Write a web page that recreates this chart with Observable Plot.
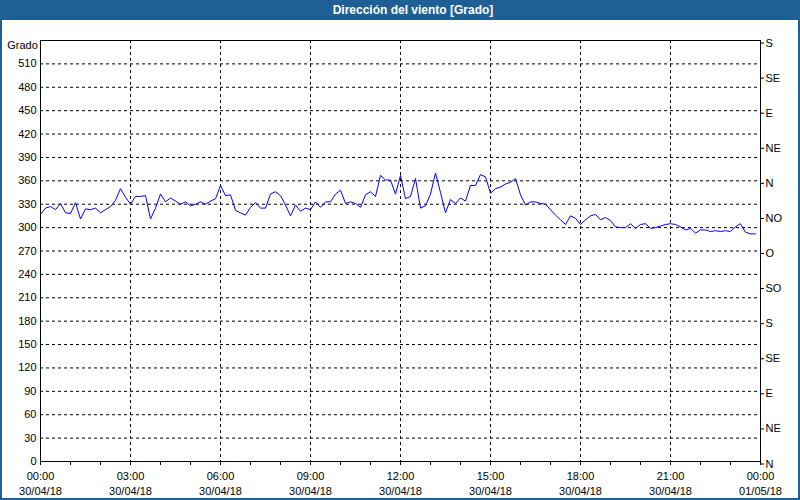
<!DOCTYPE html>
<html><head><meta charset="utf-8">
<script src="https://cdn.jsdelivr.net/npm/d3@7"></script>
<script src="https://cdn.jsdelivr.net/npm/@observablehq/plot@0.6"></script>
<style>
html,body{margin:0;padding:0;background:#fff;}
#wrap{position:relative;width:800px;height:500px;overflow:hidden;background:#fff;font-family:"Liberation Sans",Arial,sans-serif;}
#title{position:absolute;left:0;top:0;width:800px;height:20px;background:#1e6096;color:#fff;font-weight:bold;font-size:12px;line-height:20px;text-align:center;padding-left:26px;box-sizing:border-box;}
#chart{position:absolute;left:0;top:20px;}
#border{position:absolute;left:0;top:0;width:800px;height:500px;box-sizing:border-box;border:2px solid #1e6096;border-top:none;pointer-events:none;}
</style></head>
<body>
<div id="wrap">
  <div id="title">Dirección del viento [Grado]</div>
  <div id="chart"></div>
  <div id="border"></div>
</div>
<script>
const startTime = Date.UTC(2018, 3, 30, 0, 0);
const stepMinutes = 10;
const direction = [
 317,325,327,323,331,319,318,332,311,324,323,325,319,323,327,335,350,339,
 330,340,340,341,311,325,343,333,338,334,330,333,328,330,333,330,334,337,
 354,341,342,322,319,316,326,332,325,325,343,346,341,329,315,329,321,325,
 323,333,326,333,333,343,348,331,333,331,326,342,346,340,367,361,361,343,
 367,337,340,363,325,328,343,370,345,319,336,331,338,334,354,354,368,365,
 344,350,352,356,358,363,342,329,333,333,331,330,323,316,310,304,315,312,
 304,310,315,317,310,313,309,301,300,300,305,299,304,305,299,300,302,304,
 305,304,301,297,299,293,297,297,295,296,295,296,295,301,305,294,292,292
];
const gradeTicks = [0,30,60,90,120,150,180,210,240,270,300,330,360,390,420,450,480,510];
const gradeGrid = [30,60,90,120,150,180,210,240,270,300,330,360,390,420,450,480,510];
const compassTicks = [0,45,90,135,180,225,270,315,360,405,450,495,540];
const compassLabels = ["N","NE","E","SE","S","SO","O","NO","N","NE","E","SE","S"];
const hourOffsets = [0,1,2,3,4,5,6,7,8,9,10,11,12,13,14,15,16,17,18,19,20,21,22,23,24];
const labelHours = [0,3,6,9,12,15,18,21,24];
const gridHours = [3,6,9,12,15,18,21];

const H = 3600000;
const data = direction.map((v, i) => ({t: new Date(startTime + i * stepMinutes * 60000), v}));
const toDate = h => new Date(startTime + h * H);
const pad = n => String(n).padStart(2, "0");
const fmt = d => pad(d.getUTCHours()) + ":" + pad(d.getUTCMinutes()) + "\n" +
  pad(d.getUTCDate()) + "/" + pad(d.getUTCMonth() + 1) + "/" + pad(d.getUTCFullYear() % 100);

const chart = Plot.plot({
  width: 800,
  height: 480,
  marginLeft: 40,
  marginRight: 40,
  marginTop: 20,
  marginBottom: 39,
  style: {fontFamily: "'Liberation Sans', Arial, sans-serif", fontSize: "11px", color: "#000", background: "transparent"},
  x: {type: "utc", domain: [toDate(0), toDate(24)]},
  y: {domain: [0, 540]},
  marks: [
    Plot.gridY(gradeGrid, {stroke: "#000", strokeOpacity: 1, strokeDasharray: "3,3"}),
    Plot.gridX(gridHours.map(toDate), {stroke: "#000", strokeOpacity: 1, strokeDasharray: "3,3"}),
    Plot.line(data, {x: "t", y: "v", stroke: "#0000ff", strokeWidth: 1}),
    Plot.frame({stroke: "#000"}),
    Plot.axisY(gradeTicks, {anchor: "left", tickSize: 0, tickPadding: 4, label: null}),
    Plot.axisY(compassTicks, {anchor: "right", tickSize: 3, tickPadding: 2, dy: 2.5, label: null,
      tickFormat: d => compassLabels[compassTicks.indexOf(d)]}),
    Plot.axisX(hourOffsets.map(toDate), {anchor: "bottom", tickSize: 4, tickFormat: () => "", label: null}),
    Plot.axisX(labelHours.map(toDate), {anchor: "bottom", tickSize: 4, tickPadding: 4, lineHeight: 1.36, label: null, tickFormat: fmt}),
    Plot.text(["Grado"], {frameAnchor: "top-left", dx: -18, dy: 1, textAnchor: "middle", fill: "#000"})
  ]
});
document.getElementById("chart").appendChild(chart);
</script>
</body></html>
